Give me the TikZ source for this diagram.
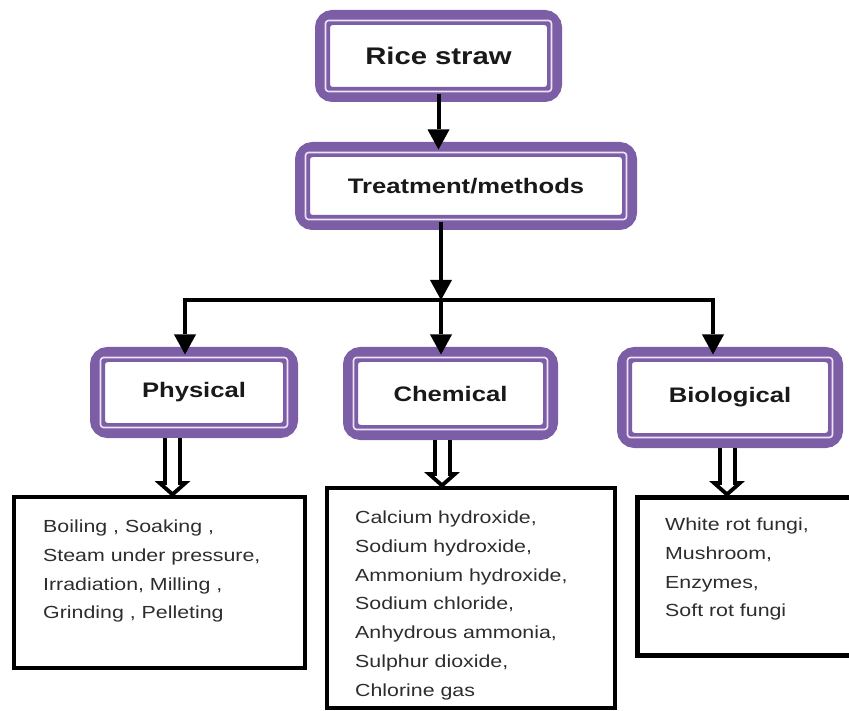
\documentclass[tikz,border=0pt]{standalone}
\usepackage{fontspec}
\setmainfont{Liberation Sans}[FakeStretch=1.22]
\usepackage{xcolor}
\usepackage{tikz}
\usetikzlibrary{arrows.meta}

\definecolor{boxpurple}{RGB}{124,94,166}
\definecolor{pinkline}{RGB}{240,226,246}
\definecolor{listgray}{RGB}{45,45,45}

\tikzset{
    method/.style={rectangle, draw=boxpurple, line width=15pt, rounded corners=10pt, fill=white, outer sep=0pt, text=black!90, font=\fontsize{21}{25}\selectfont\bfseries},
    innerline/.style={draw=pinkline, line width=1.6pt, rounded corners=3pt},
    listbox/.style={rectangle, draw=black, line width=4.5pt, outer sep=0pt},
    listtext/.style={align=left, inner sep=0pt, text=listgray, font=\fontsize{17.5}{28.7}\selectfont},
    flow/.style={line width=4pt, -{Triangle[length=20pt,width=22pt,line width=0pt]}},
    hollow/.style={line width=19pt, shorten <=7.5pt, -{Triangle[length=16pt,width=36pt,line width=0pt]},
        postaction={draw=white, line width=11pt, shorten <=7.5pt, shorten >=5.4pt, -{Triangle[length=6.6pt,width=15pt,line width=0pt]}}}
}

\begin{document}
\begin{tikzpicture}[x=1pt, y=-1pt]
    \path[use as bounding box] (0,0) rectangle (849,711);
    \clip (0,0) rectangle (849,711);
    \node[method, minimum width=232pt, minimum height=77pt, font=\fontsize{24}{28}\selectfont\bfseries] (rice) at (438.5,56) {Rice straw};
    \node[method, minimum width=327pt, minimum height=73pt] (treat) at (466,186) {Treatment/methods};
    \node[method, minimum width=193pt, minimum height=76pt] (phys) at (194,392.5) {Physical};
    \node[method, minimum width=200pt, minimum height=78pt] (chem) at (450.5,393.5) {Chemical};
    \node[method, minimum width=211pt, minimum height=86pt] (bio) at (730,397.5) {Biological};
    \foreach \n in {rice,treat,phys,chem,bio}
        \draw[innerline] ([shift={(3,3)}]\n.north west) rectangle ([shift={(-3,-3)}]\n.south east);

    \node[listbox, minimum width=291pt, minimum height=171pt] (physlist) at (159.5,582.5) {};
    \node[listbox, line width=3.5pt, minimum width=288pt, minimum height=220pt] (chemlist) at (471,598) {};
    \node[listbox, line width=5pt, minimum width=223pt, minimum height=158pt] (biolist) at (748.5,576) {};
    \node[listtext, anchor=north west] (physitems) at ([shift={(29,23)}]physlist.north west) {Boiling , Soaking ,\\Steam under pressure,\\Irradiation, Milling ,\\Grinding , Pelleting};
    \node[listtext, anchor=north west] (chemitems) at ([shift={(28,23)}]chemlist.north west) {Calcium hydroxide,\\Sodium hydroxide,\\Ammonium hydroxide,\\Sodium chloride,\\Anhydrous ammonia,\\Sulphur dioxide,\\Chlorine gas};
    \node[listtext, anchor=north west] (bioitems) at ([shift={(28,21)}]biolist.north west) {White rot fungi,\\Mushroom,\\Enzymes,\\Soft rot fungi};

    \coordinate (split) at (441,300);
    \draw[flow] (rice.south) -- (rice.south |- treat.north);
    \draw[flow, line width=3.5pt] (split) -| ([xshift=-9pt]phys.north);
    \draw[flow, line width=3.5pt] (split) -| ([xshift=-17pt]bio.north);
    \draw[flow] (split |- treat.south) -- (split);
    \draw[flow] (split) -- (split |- chem.north);

    \draw[hollow] ([xshift=-21.5pt]phys.south) -- ([xshift=-21.5pt]phys.south |- physlist.north);
    \draw[hollow] ([xshift=-8.5pt]chem.south) -- ([xshift=-8.5pt]chem.south |- chemlist.north);
    \draw[hollow] ([xshift=-3pt]bio.south) -- ([xshift=-3pt]bio.south |- biolist.north);
\end{tikzpicture}
\end{document}
